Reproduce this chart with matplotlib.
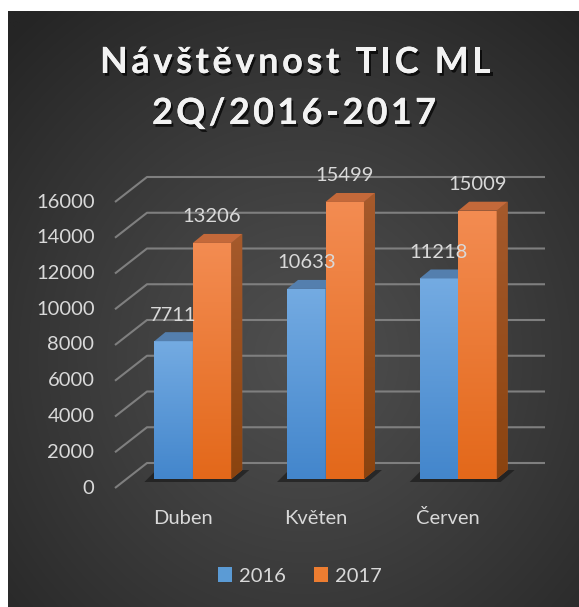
import numpy as np
import matplotlib
matplotlib.use('Agg')
import matplotlib.pyplot as plt
from matplotlib.patches import Polygon, Patch
import matplotlib.patheffects as pe
from matplotlib.colors import LinearSegmentedColormap
from matplotlib.font_manager import FontProperties

# ---------------- data ----------------
categories = ['Duben', 'Květen', 'Červen']
series_names = ['2016', '2017']
values_2016 = [7711, 10633, 11218]
values_2017 = [13206, 15499, 15009]
y_ticks = [0, 2000, 4000, 6000, 8000, 10000, 12000, 14000, 16000]
title_line1 = 'Návštěvnost TIC ML'
title_line2 = '2Q/2016-2017'

# ---------------- styles ----------------
FONT = 'Lato'
TXT = '#d9d9d9'
front_cols = {'2016': ('#4386cc', '#74abe2'), '2017': ('#e3681a', '#f38c52')}
top_cols = {'2016': '#547fae', '2017': '#c4693a'}
side_cols = {'2016': ('#2f5f92', '#3f6fa3'), '2017': ('#8a430f', '#a65a2c')}
legend_cols = {'2016': '#5b9bd5', '2017': '#ed7d31'}

W, H, DPI = 579, 607, 100
fig = plt.figure(figsize=(W / DPI, H / DPI), dpi=DPI, facecolor='white')

# background panel with radial gradient
bg = fig.add_axes([8 / W, 0, (W - 8) / W, (H - 11) / H])
bg.set_axis_off()
xx, yy = np.meshgrid(np.linspace(0, 1, 400), np.linspace(0, 1, 400))
r = np.sqrt(((xx - 0.52) * 1.0) ** 2 + ((yy - 0.58) * 1.0) ** 2)
t = np.clip(r / 0.75, 0, 1) ** 1.1
val = (0x4f * (1 - t) + 0x25 * t) / 255.0
bg.imshow(np.dstack([val, val, val]), extent=[0, 1, 0, 1], origin='upper',
          aspect='auto', interpolation='bilinear')
bg.set_xlim(0, 1)
bg.set_ylim(0, 1)

# main axes = front plane of the bars
L, R = 126.5, 524.5
Y0, Y1 = 479, 193
ax = fig.add_axes([L / W, 1 - Y0 / H, (R - L) / W, (Y0 - Y1) / H])
ax.set_xlim(-0.5, 2.5)
ax.set_ylim(0, 16000)
ax.set_axis_off()
ax.patch.set_alpha(0)

px_x = (2.5 - (-0.5)) / (R - L)
px_y = 16000 / (Y0 - Y1)


def off(x, y, dx, dy):
    return (x + dx * px_x, y + dy * px_y)


# gridlines (back wall + left wall slants)
for v in y_ticks:
    pts = [off(-0.5, v, -11.5, -9), off(-0.5, v, 20.5, 16), off(2.5, v, 20.5, 16)]
    xs, ys = zip(*pts)
    ax.plot(xs, ys, color='#7f7f7f', lw=1.5, zorder=1, clip_on=False,
            solid_capstyle='butt')
    ax.text(*off(-0.5, v, -32, -9), f'{v}', ha='right', va='center',
            color=TXT, fontsize=14.5, family=FONT, clip_on=False)

width = 0.29
x = np.arange(len(categories))
DX, DY = 11, 9
grad = np.linspace(0, 1, 256).reshape(-1, 1)

# floor shadows
for i in x:
    xl = i - width
    xr = i + width
    shp = [off(xl, 0, -10, -3), off(xr, 0, 4, -3), off(xr, 0, 18, 9), off(xl, 0, 2, 9)]
    ax.add_patch(Polygon(shp, closed=True, facecolor='#111111', alpha=0.55,
                         edgecolor='none', zorder=2, clip_on=False))

for k, (name, vals) in enumerate([('2016', values_2016), ('2017', values_2017)]):
    base_z = 3 + k
    bot, top = front_cols[name]
    cmap = LinearSegmentedColormap.from_list('f' + name, [bot, top])
    scmap = LinearSegmentedColormap.from_list('s' + name, list(side_cols[name]))
    bars = ax.bar(x + (k - 0.5) * width, vals, width, color=top, zorder=base_z,
                  linewidth=0)
    for b, v in zip(bars, vals):
        xl, xr = b.get_x(), b.get_x() + b.get_width()
        im = ax.imshow(grad, extent=[xl, xr, 0, v], origin='lower', cmap=cmap,
                       aspect='auto', zorder=base_z + 0.1, interpolation='bilinear')
        im.set_clip_path(b)
        side = Polygon([(xr, 0), (xr, v), off(xr, v, DX, DY), off(xr, 0, DX, DY)],
                       closed=True, facecolor=side_cols[name][1], edgecolor='none',
                       zorder=base_z + 0.2)
        ax.add_patch(side)
        sx1, _ = off(xr, 0, DX, 0)
        _, sy1 = off(0, v, 0, DY)
        ims = ax.imshow(grad, extent=[xr, sx1, 0, sy1], origin='lower', cmap=scmap,
                        aspect='auto', zorder=base_z + 0.25, interpolation='bilinear')
        ims.set_clip_path(side)
        ax.add_patch(Polygon([(xl, v), (xr, v), off(xr, v, DX, DY), off(xl, v, DX, DY)],
                             closed=True, facecolor=top_cols[name], edgecolor='none',
                             zorder=base_z + 0.3))
        ax.text(*off((xl + xr) / 2, v, 0, 26), f'{v}', ha='center', va='center',
                color=TXT, fontsize=14.5, family=FONT, zorder=10)

ax.set_xlim(-0.5, 2.5)
ax.set_ylim(0, 16000)

for i, c in enumerate(categories):
    ax.text(*off(i, 0, -10, -39), c, ha='center', va='center', color=TXT,
            fontsize=14.5, family=FONT, clip_on=False)

# legend
handles = [Patch(facecolor=legend_cols[s], edgecolor='none') for s in series_names]
fig.legend(handles, series_names, loc='center', bbox_to_anchor=(300 / W, 1 - 576 / H),
           ncol=2, frameon=False, handlelength=0.7, handleheight=0.7,
           handletextpad=0.35, columnspacing=1.4,
           prop={'family': FONT, 'size': 14.5}, labelcolor=TXT)

# title with letter spacing, fitted to the reference line widths
shadow = [pe.withSimplePatchShadow(offset=(1.5, -2), shadow_rgbFace='black', alpha=0.7),
          pe.Normal()]
tprop = FontProperties(family=FONT, weight='bold', size=26)
renderer = fig.canvas.get_renderer()


def adv(ch):
    if ch == ' ':
        w1 = renderer.get_text_width_height_descent('a a', tprop, ismath=False)[0]
        w2 = renderer.get_text_width_height_descent('aa', tprop, ismath=False)[0]
        return w1 - w2
    return renderer.get_text_width_height_descent(ch, tprop, ismath=False)[0]


for txt, yb, x_left, x_right in [(title_line1, 73, 100, 491), (title_line2, 124, 152, 436)]:
    widths = [adv(c) for c in txt]
    spacing = ((x_right - x_left) - sum(widths)) / (len(txt) - 1)
    cx = x_left
    for c, w in zip(txt, widths):
        if c != ' ':
            fig.text(cx / W, 1 - yb / H, c, ha='left', va='baseline', color='#f2f2f2',
                     fontproperties=tprop, path_effects=shadow)
        cx += w + spacing

fig.savefig('out.png', dpi=DPI, facecolor='white')
